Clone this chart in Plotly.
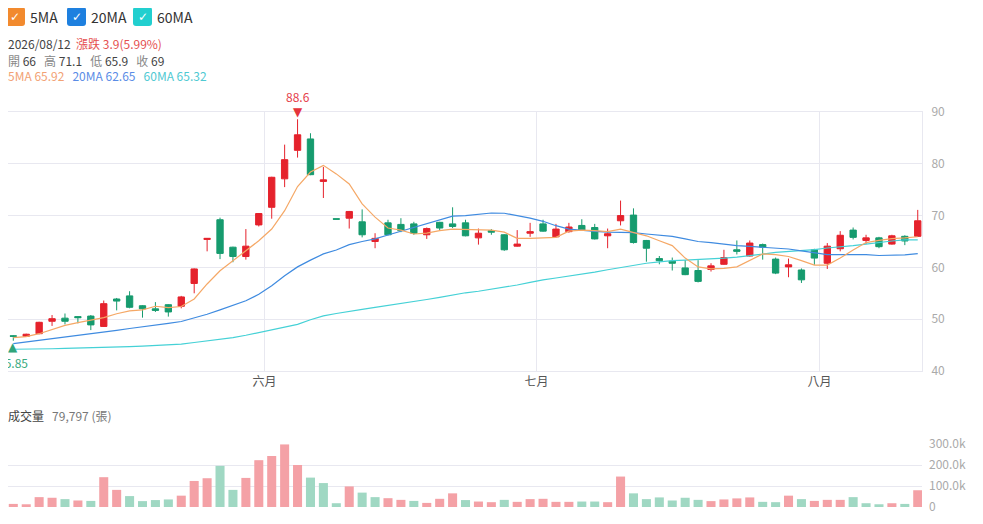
import numpy as np
import plotly.graph_objects as go

# daily OHLC (index 0 .. 70), volume in 張
opens = [46.8, 46.7, 47.2, 49.6, 50.2, 50.5, 50.6, 48.6, 53.9, 54.5,
         52.6, 52.0, 52.8, 52.5, 56.9, 65.4, 69.2, 63.9, 62.1, 68.2,
         71.6, 77.1, 82.6, 84.8, 76.6, 69.4, 69.5, 68.8, 65.0, 68.6,
         68.3, 68.4, 66.3, 68.7, 68.4, 68.6, 65.7, 67.1, 66.3, 64.1,
         66.6, 68.4, 65.9, 66.9, 68.1, 67.7, 66.1, 69.0, 70.1, 65.2,
         61.7, 61.2, 59.9, 59.4, 59.6, 60.6, 63.4, 62.2, 64.4, 61.6,
         60.1, 59.5, 63.4, 60.8, 63.6, 67.2, 65.2, 65.7, 64.5, 66.0, 66.0]
highs = [46.9, 47.2, 49.5, 50.8, 51.1, 50.6, 50.8, 53.6, 54.1, 55.4,
         52.7, 53.3, 52.9, 54.5, 59.8, 65.6, 69.6, 64.0, 67.4, 70.5,
         77.5, 83.7, 88.6, 85.9, 79.4, 69.4, 70.9, 71.2, 66.6, 69.2,
         69.5, 68.8, 67.7, 68.8, 71.6, 69.2, 67.5, 67.4, 66.4, 67.2,
         68.6, 69.2, 68.4, 68.6, 69.3, 68.4, 67.5, 72.9, 71.4, 65.3,
         62.2, 61.9, 61.4, 61.4, 60.8, 63.4, 65.2, 65.2, 64.6, 61.9,
         61.7, 59.8, 63.6, 64.7, 67.0, 67.7, 66.3, 65.9, 66.3, 66.2, 71.1]
lows = [45.85, 46.6, 47.1, 48.7, 49.0, 49.2, 47.9, 48.5, 51.7, 52.1,
        50.3, 51.4, 50.5, 52.1, 55.0, 63.1, 61.6, 61.0, 61.5, 67.9,
        69.4, 75.5, 81.2, 77.8, 73.4, 69.3, 67.5, 65.8, 63.7, 66.2,
        66.8, 66.3, 65.5, 67.1, 67.6, 66.0, 64.4, 66.3, 63.2, 64.0,
        65.9, 66.9, 65.8, 66.7, 67.1, 65.4, 63.7, 68.1, 64.6, 61.1,
        60.6, 59.4, 58.5, 57.1, 59.2, 60.5, 62.5, 62.1, 61.5, 58.7,
        58.1, 57.0, 60.5, 59.7, 63.1, 65.4, 64.5, 63.7, 64.4, 64.3, 65.9]
closes = [46.7, 47.1, 49.4, 50.1, 49.6, 50.3, 48.9, 53.0, 53.5, 52.3,
          52.0, 51.7, 51.4, 54.3, 59.7, 65.6, 62.7, 62.1, 64.1, 70.4,
          77.4, 80.8, 85.6, 77.9, 76.9, 69.3, 70.8, 66.3, 65.6, 66.3,
          67.1, 66.6, 67.5, 67.6, 67.9, 66.1, 66.6, 66.8, 63.4, 64.5,
          66.9, 67.0, 67.4, 67.8, 67.2, 65.5, 66.5, 70.0, 64.8, 63.7,
          61.3, 60.8, 58.6, 57.3, 60.3, 61.9, 63.1, 64.7, 63.9, 58.9,
          60.5, 57.6, 61.8, 64.1, 66.2, 65.8, 65.7, 64.0, 66.1, 65.1, 69.0]
volume = [14700, 13000, 47000, 44000, 37500, 31000, 29000, 142000, 81500, 52000,
          28000, 33000, 36000, 54000, 124000, 137000, 196000, 81500, 138500, 223000,
          243000, 298000, 200000, 140000, 114000, 18000, 98000, 68500, 47000, 42000,
          34000, 29000, 19500, 39000, 65000, 33000, 26000, 23000, 34000, 24500,
          37500, 39000, 24500, 24500, 26000, 26000, 23000, 145000, 65000, 37500,
          45600, 31000, 44000, 34000, 28000, 36000, 41000, 45600, 24500, 23000,
          54000, 37500, 29000, 34000, 34000, 47000, 18000, 13000, 18000, 14700, 79797]

# moving averages as drawn
ma5 = [46.45, 46.65, 47.2, 48.05, 48.8, 49.35, 49.8, 50.3, 51.05, 51.6,
       51.8, 52.5, 52.25, 52.45, 53.9, 56.8, 59.35, 61.3, 63.2, 65.15,
       67.4, 70.95, 75.6, 78.4, 79.7, 78.05, 76.1, 72.25, 69.7, 67.6,
       67.2, 66.45, 66.6, 67.1, 67.4, 67.3, 67.3, 67.2, 66.8, 65.6,
       65.6, 65.7, 65.8, 67.0, 67.2, 67.1, 66.9, 67.4, 66.8, 66.1,
       65.15, 64.2, 61.8, 60.1, 59.7, 59.8, 60.1, 61.3, 62.6, 62.45,
       62.1, 61.3, 60.45, 60.45, 61.8, 63.35, 64.8, 65.2, 65.55, 65.7, 65.92]
ma20 = [45.3, 45.6, 45.95, 46.25, 46.55, 46.9, 47.2, 47.5, 47.85, 48.2,
        48.5, 48.85, 49.2, 49.55, 50.2, 50.95, 51.8, 52.75, 53.55, 54.8,
        56.45, 58.4, 60.1, 61.4, 62.6, 63.35, 64.4, 65.0, 65.5, 66.25,
        66.95, 67.7, 68.5, 69.2, 69.9, 70.0, 70.2, 70.5, 70.45, 70.0,
        69.5, 68.9, 68.05, 67.4, 67.15, 66.95, 66.8, 66.8, 66.7, 66.45,
        66.25, 66.0, 65.5, 65.0, 64.8, 64.5, 64.2, 64.05, 63.9, 63.75,
        63.55, 63.2, 62.8, 62.45, 62.45, 62.5, 62.45, 62.3, 62.3, 62.4, 62.65]
ma60 = [44.2, 44.2, 44.25, 44.3, 44.35, 44.4, 44.5, 44.55, 44.6, 44.7,
        44.8, 44.9, 45.0, 45.2, 45.5, 45.8, 46.1, 46.45, 46.9, 47.4,
        47.9, 48.4, 49.0, 49.9, 50.65, 51.1, 51.55, 51.9, 52.3, 52.65,
        53.0, 53.4, 53.8, 54.2, 54.7, 55.1, 55.4, 55.8, 56.1, 56.6,
        57.1, 57.6, 57.95, 58.3, 58.7, 59.1, 59.55, 60.0, 60.4, 60.8,
        61.05, 61.3, 61.4, 61.5, 61.65, 61.8, 62.0, 62.25, 62.55, 62.9,
        63.05, 63.2, 63.45, 63.75, 63.95, 64.2, 64.5, 64.85, 65.1, 65.3, 65.32]

month_ticks = [19.45, 40.5, 62.4]
month_labels = ['六月', '七月', '八月']
price_ticks = [40, 50, 60, 70, 80, 90]
vol_ticks = [0, 100000, 200000, 300000]
vol_labels = ['0', '100.0k', '200.0k', '300.0k']

RED = '#E5222C'
GREEN = '#169B6E'
GRID = '#E8E8F0'
FONT = 'Noto Sans CJK TC'
SP = '   '  # wider gap between groups in the info lines

idx = np.arange(len(closes))

# volume colour follows close vs previous close
chg = np.diff(closes, prepend=closes[0] - 1)
vol_colors = ['#F4A1A6' if c > 0 else '#A0D8C3' for c in chg]

fig = go.Figure()
fig.add_trace(go.Candlestick(
    x=idx, open=opens, high=highs, low=lows, close=closes,
    increasing=dict(line=dict(color=RED, width=1), fillcolor=RED),
    decreasing=dict(line=dict(color=GREEN, width=1), fillcolor=GREEN),
    whiskerwidth=0, hoverinfo='skip', showlegend=False))

for vals, col in [(ma60, '#45D1D6'), (ma20, '#3F8BE0'), (ma5, '#F5A866')]:
    fig.add_trace(go.Scatter(x=idx, y=vals, mode='lines', line=dict(color=col, width=1.2),
                             hoverinfo='skip', showlegend=False))

fig.add_trace(go.Bar(x=idx, y=volume, marker=dict(color=vol_colors, line=dict(width=0)),
                     xaxis='x2', yaxis='y2', hoverinfo='skip', showlegend=False))

# the page adds an 8px body margin, so the figure is 8px smaller and
# positions below are given in page pixels: plot area x 8..922, y 112..507
def px(x):
    return (x - 8) / 914

def py(y):
    return 1 - (y - 112) / 395

def rounded_box(x0, y0, x1, y1, r=3):
    # rounded rectangle path in paper coords, corners given in page pixels
    pts = [('M', x0 + r, y0), ('L', x1 - r, y0), ('Q', x1, y0, x1, y0 + r),
           ('L', x1, y1 - r), ('Q', x1, y1, x1 - r, y1), ('L', x0 + r, y1),
           ('Q', x0, y1, x0, y1 - r), ('L', x0, y0 + r), ('Q', x0, y0, x0 + r, y0)]
    out = []
    for p in pts:
        coords = p[1:]
        s = ' '.join(f'{px(coords[i]):.5f},{py(coords[i + 1]):.5f}' for i in range(0, len(coords), 2))
        out.append(p[0] + s)
    return ' '.join(out) + ' Z'

fig.update_layout(
    width=975, height=516,
    margin=dict(l=0, r=61, t=104, b=17),
    paper_bgcolor='white', plot_bgcolor='white',
    font=dict(family=FONT, size=12, color='#333'),
    hovermode=False, bargap=0.3,
    xaxis=dict(domain=[0, 1], anchor='y', range=[-0.41, 70.33],
               rangeslider=dict(visible=False),
               tickvals=month_ticks, ticktext=month_labels,
               tickfont=dict(size=12, color='#555'),
               showgrid=True, gridcolor=GRID, showline=True, mirror=True,
               linecolor=GRID, zeroline=False, ticks=''),
    yaxis=dict(domain=[py(371), 1], range=[40, 90], side='right',
               tickvals=price_ticks, tickfont=dict(size=12, color='#AAA'),
               showgrid=True, gridcolor=GRID, showline=True, mirror=True,
               linecolor=GRID, zeroline=False, ticks='', ticklabelstandoff=6),
    xaxis2=dict(domain=[0, 1], anchor='y2', matches='x', showticklabels=False,
                showgrid=False, showline=False, zeroline=False, ticks=''),
    yaxis2=dict(domain=[0, py(444)], range=[0, 300000], side='right',
                tickvals=vol_ticks, ticktext=vol_labels,
                tickfont=dict(size=12, color='#AAA'),
                showgrid=True, gridcolor=GRID, showline=False, zeroline=False,
                ticks='', ticklabelstandoff=6),
)

# legend checkboxes
legend_items = [('5MA', '#F28A2E', 6), ('20MA', '#1E80DF', 67), ('60MA', '#22CFCF', 133)]
for name, col, x0 in legend_items:
    fig.add_shape(type='path', xref='paper', yref='paper',
                  path=rounded_box(x0, 7, x0 + 19, 26),
                  fillcolor=col, line=dict(width=0))
    fig.add_annotation(xref='paper', yref='paper', x=px(x0 + 9.5), y=py(16.5),
                       xanchor='center', yanchor='middle', text='✓', showarrow=False,
                       font=dict(family='DejaVu Sans', size=12, color='white'))
    fig.add_annotation(xref='paper', yref='paper', x=px(x0 + 22), y=py(17),
                       xanchor='left', yanchor='middle', text=name, showarrow=False,
                       font=dict(size=14, color='#333'))

last = len(closes) - 1
diff = closes[last] - closes[last - 1]
pct = diff / closes[last - 1] * 100
info_lines = [
    (44, f"2026/08/12  <span style='color:#E55050'>漲跌 {diff:.1f}({pct:.2f}%)</span>"),
    (61, f"<span style='color:#888'>開</span> {opens[last]:g}{SP}<span style='color:#888'>高</span> {highs[last]:g}"
         f"{SP}<span style='color:#888'>低</span> {lows[last]:g}{SP}<span style='color:#888'>收</span> {closes[last]:g}"),
    (76, f"<span style='color:#F2A274'>5MA {ma5[last]:.2f}</span>{SP}"
         f"<span style='color:#5A8CE6'>20MA {ma20[last]:.2f}</span>{SP}"
         f"<span style='color:#4FC9D2'>60MA {ma60[last]:.2f}</span>"),
    (415, f"成交量{SP}<span style='color:#777'>{volume[last]:,} (張)</span>"),
]
for y, txt in info_lines:
    fig.add_annotation(xref='paper', yref='paper', x=px(6), y=py(y),
                       xanchor='left', yanchor='middle',
                       text=txt, showarrow=False, font=dict(size=12, color='#444'))

# highest high / lowest low markers
hi = int(np.argmax(highs))
lo = int(np.argmin(lows))
fig.add_annotation(x=hi, y=highs[hi], text='▼', showarrow=False, yshift=7,
                   xanchor='center', yanchor='middle',
                   font=dict(family='DejaVu Sans', size=12, color='#E5343C'))
fig.add_annotation(x=hi, y=highs[hi], text=f'{highs[hi]:g}', showarrow=False, yshift=23,
                   xanchor='center', yanchor='middle', font=dict(size=12, color='#E5404A'))
fig.add_annotation(x=lo, y=lows[lo], text='▲', showarrow=False, yshift=-6,
                   xanchor='center', yanchor='middle',
                   font=dict(family='DejaVu Sans', size=12, color='#2FA57A'))
fig.add_annotation(x=lo, y=lows[lo], text=f'{lows[lo]:g}', showarrow=False, yshift=-22,
                   xanchor='center', yanchor='middle', font=dict(size=12, color='#3BAA80'))

fig.write_html("out.html")
